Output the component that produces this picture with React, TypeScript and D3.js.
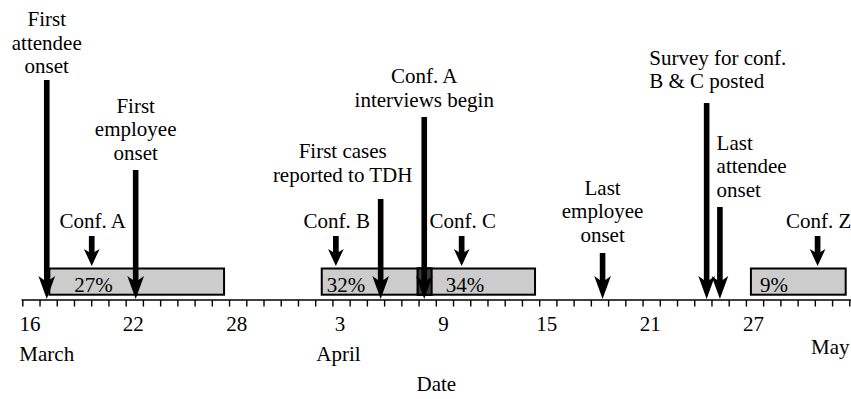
import React, {useRef, useEffect} from 'react';
import {select, scaleLinear, range, axisBottom} from 'd3';

// days counted from the start of 16 March
const eventLabels = [
    ['First', 'attendee', 'onset'],
    ['First', 'employee', 'onset'],
    ['First cases', 'reported to TDH'],
    ['Conf. A', 'interviews begin'],
    ['Last', 'employee', 'onset'],
    ['Survey for conf.', 'B & C posted'],
    ['Last', 'attendee', 'onset'],
];
const eventDays = [1.42, 6.58, 20.8, 23.33, 33.68, 39.72, 40.49];

const confNames = ['Conf. A', 'Conf. B', 'Conf. C', 'Conf. Z'];
const confDays = [4.03, 18.2, 25.5, 46.16];
const confStart = [1.57, 17.38, 22.95, 42.29];
const confEnd = [11.71, 23.76, 29.76, 47.79];
const confPct = [27, 32, 34, 9];

const tickDays = [0, 6, 12, 18, 24, 30, 36, 42];
const tickLabels = ['16', '22', '28', '3', '9', '15', '21', '27'];
const monthNames = ['March', 'April', 'May'];
const monthDays = [1.42, 18.35, 46.9];

// layout only (pixels)
const eventTop = [80, 170, 199, 117, 253, 103, 207];
const labelGap = [7, 10.5, 17.5, 10.5, 11.5, 15, 10.5];
const labelDx = [0, 0, -38, 0, 0, -57.4, -3.3];
const labelAnchor = ['middle', 'middle', 'middle', 'middle', 'middle', 'start', 'start'];
const pctDx = [25, 5, 28, 9];
const monthY = [361, 361, 354];

const W = 851, H = 399;
const AXIS_Y = 300;
const BOX_TOP = 268.5, BOX_BOTTOM = 294.7;
const FONT = '"Liberation Serif", "Times New Roman", serif';

const arrowPath = (x, top, tip, w, hw, hl, notch) => {
    const back = tip - hl;
    return `M${x - w / 2},${top} L${x + w / 2},${top} L${x + w / 2},${back + notch - 1}` +
        ` L${x + hw / 2},${back} L${x},${tip} L${x - hw / 2},${back} L${x - w / 2},${back + notch - 1} Z`;
};

const App = () => {
    const svgRef = useRef();

    useEffect(() => {
        const svg = select(svgRef.current);
        svg.selectAll('*').remove();

        const x = scaleLinear().domain([0, 48]).range([22.3, 849.3]);

        // axis line + day ticks
        svg.append('line')
            .attr('x1', 21.5).attr('x2', W)
            .attr('y1', AXIS_Y).attr('y2', AXIS_Y)
            .attr('stroke', 'black').attr('stroke-width', 1.6);

        const ax = svg.append('g').attr('transform', `translate(0,${AXIS_Y})`)
            .call(axisBottom(x).tickValues(range(0, 49)).tickFormat(() => '').tickSizeInner(6.5).tickSizeOuter(0));
        ax.select('.domain').remove();
        ax.selectAll('line').attr('stroke', 'black').attr('stroke-width', 1.4);

        // tick labels at day centres
        svg.append('g').selectAll('text')
            .data(tickDays)
            .join('text')
            .attr('x', d => x(d + 0.5) - 1)
            .attr('y', 331)
            .attr('text-anchor', 'middle')
            .text((d, i) => tickLabels[i]);

        svg.append('g').selectAll('text')
            .data(monthDays)
            .join('text')
            .attr('x', d => x(d))
            .attr('y', (d, i) => monthY[i])
            .attr('text-anchor', 'middle')
            .text((d, i) => monthNames[i]);

        svg.append('text')
            .attr('x', 436.3).attr('y', 391)
            .attr('text-anchor', 'middle')
            .text('Date');

        // conference boxes
        svg.append('g').selectAll('rect')
            .data(confStart)
            .join('rect')
            .attr('x', d => x(d))
            .attr('y', BOX_TOP)
            .attr('width', (d, i) => x(confEnd[i]) - x(d))
            .attr('height', BOX_BOTTOM - BOX_TOP)
            .attr('fill', '#cccccc')
            .attr('stroke', 'black')
            .attr('stroke-width', 2);

        // overlaps between neighbouring boxes
        const overlaps = confStart.slice(1)
            .map((s, i) => [s, confEnd[i]])
            .filter(([s, e]) => e > s);
        svg.append('g').selectAll('rect')
            .data(overlaps)
            .join('rect')
            .attr('x', d => x(d[0]))
            .attr('y', BOX_TOP)
            .attr('width', d => x(d[1]) - x(d[0]))
            .attr('height', BOX_BOTTOM - BOX_TOP)
            .attr('fill', '#3a3a3a')
            .attr('stroke', 'black')
            .attr('stroke-width', 2);

        svg.append('g').selectAll('text')
            .data(confPct)
            .join('text')
            .attr('x', (d, i) => x(confStart[i]) + pctDx[i])
            .attr('y', 292)
            .text(d => `${d}%`);

        // conference arrows + names
        svg.append('g').selectAll('path')
            .data(confDays)
            .join('path')
            .attr('d', d => arrowPath(x(d), 236, 266, 5.7, 15.7, 17, 4))
            .attr('fill', 'black');

        svg.append('g').selectAll('text')
            .data(confDays)
            .join('text')
            .attr('x', d => x(d) + 1)
            .attr('y', 228.3)
            .attr('text-anchor', 'middle')
            .text((d, i) => confNames[i]);

        // event arrows
        svg.append('g').selectAll('path')
            .data(eventDays)
            .join('path')
            .attr('d', (d, i) => arrowPath(x(d), eventTop[i], AXIS_Y - 1, 5.6, 16.7, 23, 5))
            .attr('fill', 'black');

        const lab = svg.append('g').selectAll('text')
            .data(eventDays)
            .join('text')
            .attr('text-anchor', (d, i) => labelAnchor[i]);
        lab.each(function (d, i) {
            const lines = eventLabels[i];
            const last = eventTop[i] - labelGap[i];
            select(this).selectAll('tspan')
                .data(lines)
                .join('tspan')
                .attr('x', x(d) + labelDx[i])
                .attr('y', (l, j) => last - (lines.length - 1 - j) * 23.5)
                .text(l => l);
        });
    }, []);

    return (
        <svg ref={svgRef} width={W} height={H}
             style={{position: 'absolute', left: 0, top: 0, background: 'white'}}
             fontFamily={FONT} fontSize={21} fill="black"/>
    );
};

export default App;
